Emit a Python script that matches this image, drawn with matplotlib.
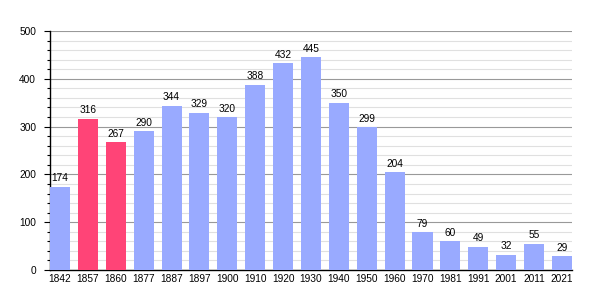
import numpy as np
import matplotlib.pyplot as plt
from matplotlib.ticker import MultipleLocator

plt.rcParams["font.family"] = ["Liberation Sans", "DejaVu Sans"]

years = ["1842", "1857", "1860", "1877", "1887", "1897", "1900", "1910", "1920", "1930",
         "1940", "1950", "1960", "1970", "1981", "1991", "2001", "2011", "2021"]
population = [174, 316, 267, 290, 344, 329, 320, 388, 432, 445,
              350, 299, 204, 79, 60, 49, 32, 55, 29]
highlighted = ["1857", "1860"]

blue = "#99aaff"
pink = "#ff4477"
colors = [pink if y in highlighted else blue for y in years]

fig = plt.figure(figsize=(6, 3), dpi=100)
ax = fig.add_axes([0.0833, 0.1, 0.87, 0.7967])

w = 0.72
x = np.arange(len(years))
ax.bar(x, population, width=w, color=colors, zorder=3)
for xi, v in zip(x, population):
    ax.annotate(str(v), (xi, v), xytext=(0, 2.5), textcoords="offset points",
                ha="center", va="bottom", fontsize=7.3, zorder=4)

ax.set_xlim(-w / 2, len(years) - 1 + w / 2)
ax.set_ylim(0, 500)
ax.set_xticks(x)
ax.set_xticklabels(years, fontsize=7.3)
ax.yaxis.set_major_locator(MultipleLocator(100))
ax.yaxis.set_minor_locator(MultipleLocator(20))
ax.tick_params(axis="y", labelsize=7.3, length=4, width=0.8, pad=6)
ax.tick_params(axis="y", which="minor", length=2, width=0.8)
ax.tick_params(axis="x", length=0, pad=3)
ax.grid(axis="y", which="major", color="#999999", linewidth=0.8, zorder=0)
ax.grid(axis="y", which="minor", color="#e0e0e0", linewidth=0.8, zorder=0)
for s in ["top", "right"]:
    ax.spines[s].set_visible(False)
ax.spines["left"].set_linewidth(1)
ax.spines["bottom"].set_linewidth(1)

fig.savefig("out.png", dpi=100)
